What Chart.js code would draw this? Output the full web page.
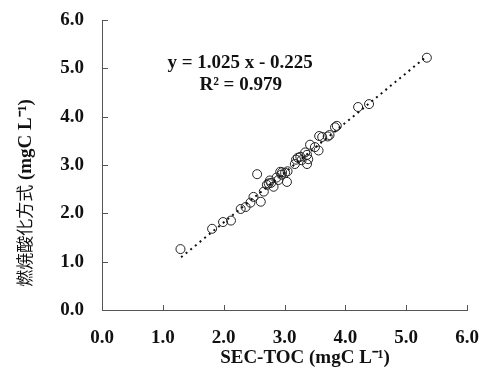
<!DOCTYPE html>
<html>
<head>
<meta charset="utf-8">
<script src="https://cdn.jsdelivr.net/npm/chart.js@4"></script>
<style>
  body { margin: 0; background: #fff; }
  canvas { display: block; }
</style>
</head>
<body>
<canvas id="myChart" width="479" height="372"></canvas>
<script>
// SEC-TOC (x) vs combustion oxidation TOC (y), mgC/L
const tocX = [1.29, 1.81, 1.99, 2.12, 2.28, 2.36, 2.44, 2.49, 2.61, 2.55, 2.66, 2.71, 2.74, 2.76, 2.82,
  2.87, 2.90, 2.93, 2.96, 3.01, 3.04, 3.05, 3.17, 3.19, 3.22, 3.26, 3.34, 3.37, 3.37, 3.39,
  3.42, 3.50, 3.56, 3.57, 3.71, 3.74, 3.83, 3.86, 4.21, 4.39, 5.34, 2.78, 2.95, 3.28, 3.62];
const combY = [1.26, 1.68, 1.82, 1.85, 2.09, 2.13, 2.22, 2.34, 2.24, 2.81, 2.45, 2.59, 2.62, 2.68, 2.55,
  2.74, 2.69, 2.86, 2.85, 2.84, 2.65, 2.87, 3.02, 3.11, 3.15, 3.17, 3.26, 3.02, 3.21, 3.12,
  3.42, 3.37, 3.30, 3.60, 3.59, 3.62, 3.78, 3.81, 4.20, 4.26, 5.22, 2.63, 2.80, 3.10, 3.58];
// ends of the dotted regression line
const trendX = [1.30, 5.30];
const trendY = [1.09, 5.21];
// text
const eqLines = ["y = 1.025 x - 0.225", "R² = 0.979"];
const xTitle = "SEC-TOC (mgC L⁻¹)";
const yTitleJa = "燃焼酸化方式";
const yTitleUnit = " (mgC L⁻¹)";

const serif = "'Liberation Serif', 'Times New Roman', serif";

// draws inward tick marks, the axis titles and the equation
const decorations = {
  id: 'decorations',
  afterDraw(chart) {
    const ctx = chart.ctx;
    const xs = chart.scales.x, ys = chart.scales.y;
    ctx.save();
    ctx.strokeStyle = '#555';
    ctx.lineWidth = 1;
    xs.ticks.forEach(t => {
      const p = Math.round(xs.getPixelForValue(t.value)) + 0.5;
      ctx.beginPath(); ctx.moveTo(p, xs.top); ctx.lineTo(p, xs.top - 5); ctx.stroke();
    });
    ys.ticks.forEach(t => {
      const p = Math.round(ys.getPixelForValue(t.value)) + 0.5;
      ctx.beginPath(); ctx.moveTo(ys.right, p); ctx.lineTo(ys.right + 6, p); ctx.stroke();
    });

    ctx.fillStyle = '#111';
    ctx.textAlign = 'center';
    ctx.textBaseline = 'middle';
    // equation
    ctx.font = 'bold 19px ' + serif;
    ctx.fillText(eqLines[0], xs.getPixelForValue(2.27), ys.getPixelForValue(5.11));
    ctx.fillText(eqLines[1], xs.getPixelForValue(2.28), ys.getPixelForValue(4.65));
    // x title
    ctx.font = 'bold 19px ' + serif;
    ctx.fillText(xTitle, 305, 358);
    // y title, japanese part in gothic, unit in bold serif
    ctx.translate(25, 193);
    ctx.rotate(-Math.PI / 2);
    ctx.textAlign = 'left';
    const fJa = '17px "Noto Sans CJK JP"';
    const fUnit = 'bold 19px ' + serif;
    ctx.font = fJa; const w1 = ctx.measureText(yTitleJa).width;
    ctx.font = fUnit; const w2 = ctx.measureText(yTitleUnit).width;
    let start = -(w1 + w2) / 2;
    ctx.font = fJa; ctx.fillText(yTitleJa, start, 0);
    ctx.font = fUnit; ctx.fillText(yTitleUnit, start + w1, 1);
    ctx.restore();
  }
};

const points = tocX.map((x, i) => ({ x: x, y: combY[i] }));
const trend = trendX.map((x, i) => ({ x: x, y: trendY[i] }));

const tickFont = { family: serif, size: 19, weight: 'bold' };

const ctx = document.getElementById('myChart').getContext('2d');
const myChart = new Chart(ctx, {
  type: 'scatter',
  data: {
    datasets: [{
      data: trend,
      showLine: true,
      borderColor: '#111',
      borderWidth: 2,
      borderDash: [2, 4],
      pointRadius: 0,
      fill: false
    }, {
      data: points,
      pointRadius: 4.5,
      pointBorderWidth: 1,
      pointBorderColor: '#222',
      pointBackgroundColor: 'rgba(0,0,0,0)'
    }]
  },
  options: {
    responsive: false,
    devicePixelRatio: 1,
    animation: false,
    layout: { padding: { left: 0, top: 20, right: 12, bottom: 0 } },
    plugins: {
      legend: { display: false },
      tooltip: { enabled: false }
    },
    scales: {
      x: {
        min: 0, max: 6,
        grid: { display: true, drawOnChartArea: false, drawTicks: false },
        border: { display: true, color: '#555', width: 1 },
        ticks: { stepSize: 1, padding: 17, color: '#111', font: tickFont,
          callback: v => v.toFixed(1) },
        afterFit: s => { s.height = 62; s.paddingLeft = 0; s.paddingRight = 0; }
      },
      y: {
        min: 0, max: 6,
        grid: { display: true, drawOnChartArea: false, drawTicks: false },
        border: { display: true, color: '#555', width: 1 },
        ticks: { stepSize: 1, padding: 18, color: '#111', font: tickFont,
          callback: v => v.toFixed(1) },
        afterFit: s => { s.width = 102; s.paddingTop = 0; s.paddingBottom = 0; }
      }
    }
  },
  plugins: [decorations]
});
</script>
</body>
</html>
